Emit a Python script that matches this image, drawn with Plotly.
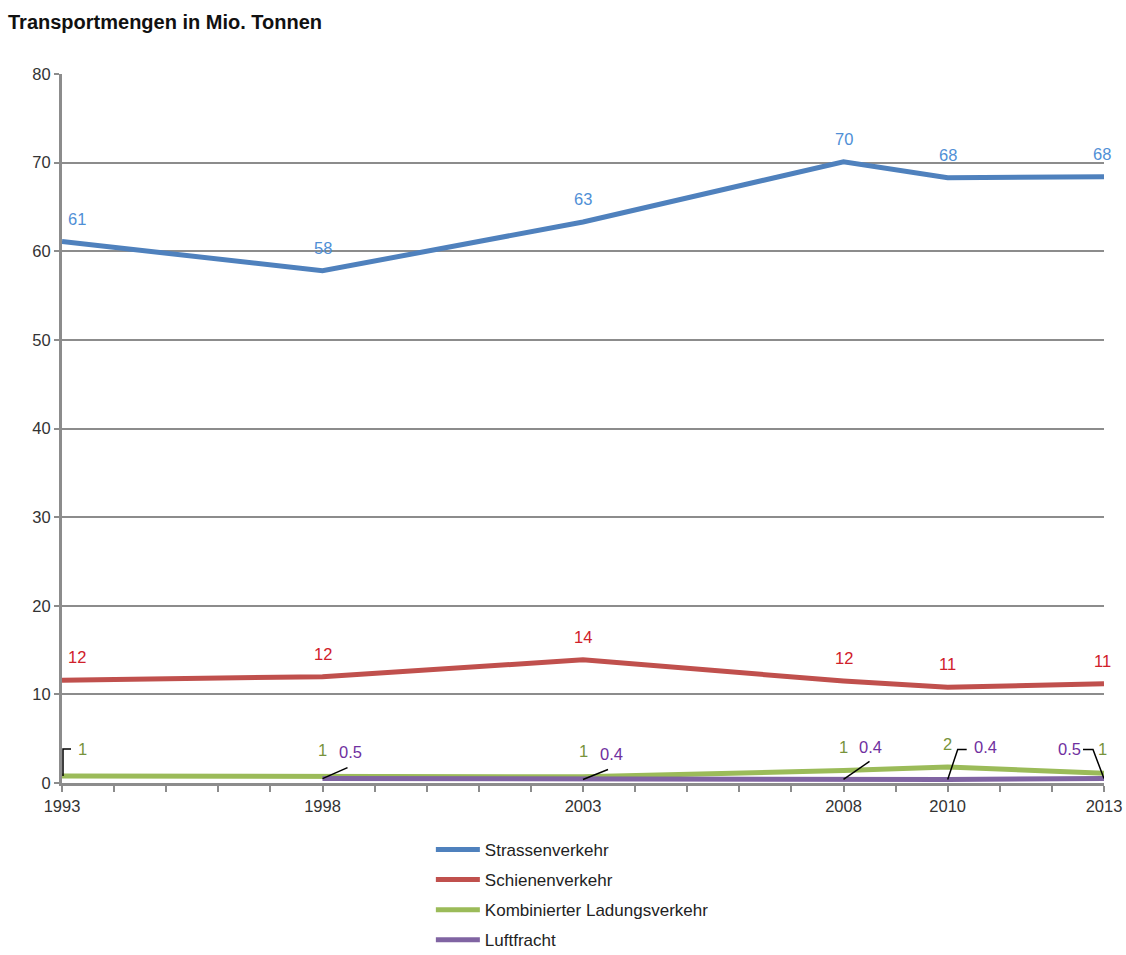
import plotly.graph_objects as go

# Transport volumes in million tonnes
years = [1993, 1998, 2003, 2008, 2010, 2013]
strasse = [61.1, 57.8, 63.3, 70.1, 68.3, 68.4]
schiene = [11.6, 12.0, 13.9, 11.5, 10.8, 11.2]
kombiniert = [0.8, 0.8, 0.7, 1.4, 1.8, 1.1]
luftfracht = [None, 0.5, 0.4, 0.4, 0.4, 0.5]

tick_years = [1993, 1998, 2003, 2008, 2010, 2013]
y_ticks = [0, 10, 20, 30, 40, 50, 60, 70, 80]

series = [
    ("Strassenverkehr", strasse, "#4F81BD", "#4F8FD6"),
    ("Schienenverkehr", schiene, "#C0504D", "#D0202A"),
    ("Kombinierter Ladungsverkehr", kombiniert, "#9BBB59", "#77933C"),
    ("Luftfracht", luftfracht, "#8064A2", "#7030A0"),
]

FONT = "Liberation Sans, Arial, sans-serif"
AXIS_GREY = "#8C8C8C"
LABEL_SIZE = 16.5

fig = go.Figure()
for i, (name, vals, color, _) in enumerate(series):
    fig.add_trace(go.Scatter(
        x=years, y=vals, name=name, mode="lines",
        line=dict(color=color, width=5),
        legendgroup=f"g{i}", connectgaps=False,
        hoverinfo="x+y+name",
    ))

annotations = []
shapes = []


def label(x, y, text, color, xshift=0, yshift=24):
    annotations.append(dict(
        x=x, y=y, xref="x", yref="y", text=text, showarrow=False,
        xshift=xshift, yshift=yshift, xanchor="center", yanchor="middle",
        font=dict(family=FONT, size=LABEL_SIZE, color=color),
    ))


def leader(x, y, path):
    shapes.append(dict(
        type="path", xref="x", yref="y", xsizemode="pixel", ysizemode="pixel",
        xanchor=x, yanchor=y, path=path,
        line=dict(color="#000000", width=1.5), layer="above",
    ))


# Road and rail labels above their points
for name, vals, _, tcol in series[:2]:
    for k, (x, v) in enumerate(zip(years, vals)):
        xs = 15 if k == 0 else (-2 if k == len(years) - 1 else 0)
        label(x, v, f"{v:.0f}", tcol, xshift=xs, yshift=23)

# Combined transport labels
komb_col = series[2][3]
komb_shift = [(20, 27), (0, 26), (0, 26), (0, 24), (0, 23), (-2, 24)]
for (x, v), (xs, ys) in zip(zip(years, kombiniert), komb_shift):
    label(x, v, f"{v:.0f}", komb_col, xshift=xs, yshift=ys)
leader(years[0], kombiniert[0], "M1,0 V27 H9")

# Air freight labels with leader lines
luft_col = series[3][3]
luft_shift = {1998: (28, 27), 2003: (28, 25), 2008: (27, 32), 2010: (38, 32), 2013: (-35, 30)}
for x, v in zip(years, luftfracht):
    if v is None:
        continue
    xs, ys = luft_shift[x]
    label(x, v, f"{v:.1f}", luft_col, xshift=xs, yshift=ys)
leader(1998, 0.5, "M0,0 L25,11")
leader(2003, 0.4, "M0,0 L25,10")
leader(2008, 0.4, "M0,0 L26,18")
leader(2010, 0.4, "M0,0 L10,30 H19")
leader(2013, 0.5, "M0,0 L-11,29 H-21")

fig.update_layout(
    width=1126, height=955,
    margin=dict(l=62, r=22, t=74, b=172, autoexpand=False),
    paper_bgcolor="white", plot_bgcolor="white",
    font=dict(family=FONT, size=16, color="#333333"),
    title=dict(
        text="<b>Transportmengen in Mio. Tonnen</b>",
        x=8 / 1126, xref="container", y=1, yref="container",
        xanchor="left", yanchor="top", pad=dict(t=15),
        font=dict(family=FONT, size=20, color="#111111"),
    ),
    xaxis=dict(
        range=[1993, 2013], tickmode="array", tickvals=tick_years,
        ticktext=[str(t) for t in tick_years],
        showgrid=False, zeroline=False,
        showline=True, linecolor=AXIS_GREY, linewidth=3,
        ticks="outside", ticklen=6, tickwidth=2, tickcolor=AXIS_GREY,
        minor=dict(tick0=1993, dtick=1, ticks="outside", ticklen=6,
                   tickwidth=2, tickcolor=AXIS_GREY, showgrid=False),
        tickfont=dict(family=FONT, size=16.5, color="#333333"),
        fixedrange=True,
    ),
    yaxis=dict(
        range=[0, 80], tickmode="array", tickvals=y_ticks,
        showgrid=True, gridcolor=AXIS_GREY, gridwidth=1.5,
        zeroline=False,
        showline=True, linecolor=AXIS_GREY, linewidth=3,
        ticks="outside", ticklen=5, tickwidth=2, tickcolor=AXIS_GREY,
        tickfont=dict(family=FONT, size=16.5, color="#333333"),
        fixedrange=True,
    ),
    legend=dict(
        x=0.354, xanchor="left", y=-0.069, yanchor="top",
        orientation="v", tracegroupgap=5, itemwidth=44,
        font=dict(family=FONT, size=17, color="#222222"),
        bgcolor="rgba(0,0,0,0)",
    ),
    annotations=annotations,
    shapes=shapes,
    showlegend=True,
)

fig.write_html("out.html")
